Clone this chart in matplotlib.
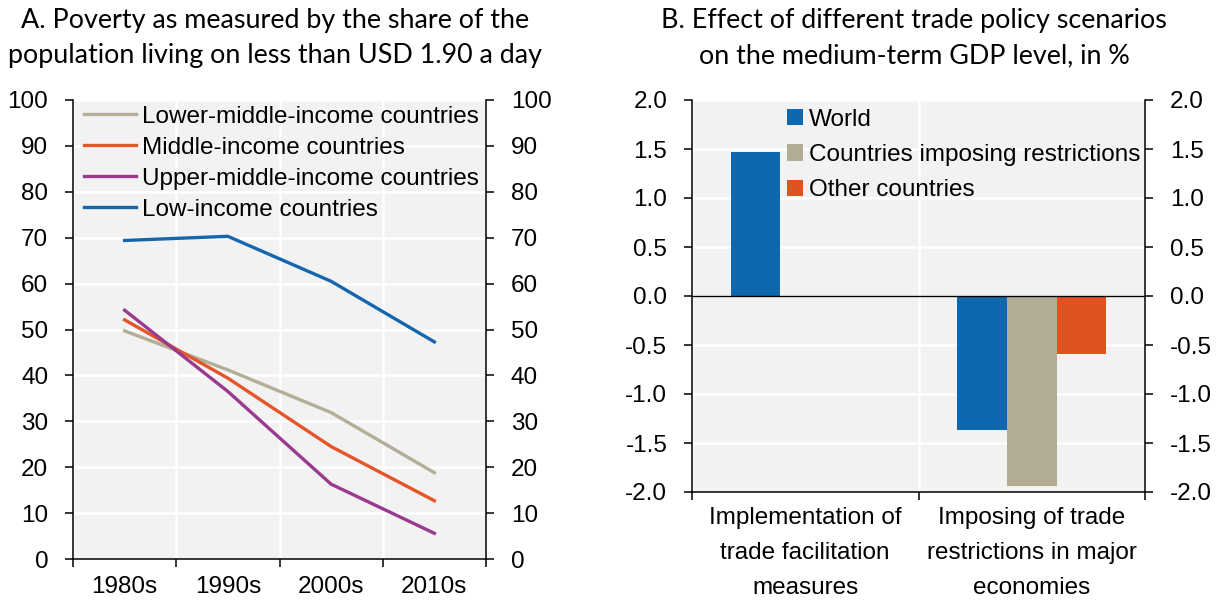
import matplotlib
matplotlib.use("Agg")
import matplotlib.pyplot as plt
from matplotlib import font_manager
import numpy as np

# ---------------- data ----------------
decades = ["1980s", "1990s", "2000s", "2010s"]
lower_middle = [49.7, 41.2, 31.9, 18.8]
middle = [52.1, 39.4, 24.5, 12.7]
upper_middle = [54.2, 36.5, 16.3, 5.6]
low_income = [69.4, 70.3, 60.5, 47.3]

scenarios = ["Implementation of\ntrade facilitation\nmeasures",
             "Imposing of trade\nrestrictions in major\neconomies"]
world = [1.47, -1.37]
imposing = [np.nan, -1.94]
other = [np.nan, -0.59]

left_yticks = list(range(0, 101, 10))
right_yticks = [-2.0, -1.5, -1.0, -0.5, 0.0, 0.5, 1.0, 1.5, 2.0]

# ---------------- style ----------------
names = {f.name for f in font_manager.fontManager.ttflist}
body_font = "Liberation Sans Narrow" if "Liberation Sans Narrow" in names else "Liberation Sans"
title_font = "Lato" if "Lato" in names else "DejaVu Sans"
plt.rcParams["font.family"] = [body_font, "DejaVu Sans"]
plt.rcParams["axes.unicode_minus"] = False

BG = "#F2F2F2"
C_LM = "#B3AE97"
C_M = "#E5552A"
C_UM = "#9A3A8F"
C_LOW = "#1566AE"
C_WORLD = "#0F67AE"
C_IMP = "#B1AC93"
C_OTH = "#E05321"

W, H = 1219, 600
fig = plt.figure(figsize=(W / 100, H / 100), dpi=100)

def frac(l, t, r, b):
    return [l / W, 1 - b / H, (r - l) / W, (b - t) / H]

FS = 17.5
TFS = 19.4

# ---------------- panel A ----------------
ax1 = fig.add_axes(frac(73, 100, 486, 559))
ax1.set_facecolor(BG)
x = np.arange(len(decades))
ax1.plot(x, lower_middle, color=C_LM, lw=2.4, label="Lower-middle-income countries")
ax1.plot(x, middle, color=C_M, lw=2.4, label="Middle-income countries")
ax1.plot(x, upper_middle, color=C_UM, lw=2.4, label="Upper-middle-income countries")
ax1.plot(x, low_income, color=C_LOW, lw=2.4, label="Low-income countries")
ax1.set_xlim(-0.5, len(decades) - 0.5)
ax1.set_ylim(0, 100)
ax1.set_yticks(left_yticks)
ax1.set_xticks(np.arange(len(decades) + 1) - 0.5)
ax1.set_xticklabels([])
ax1.set_xticks(x, minor=True)
ax1.set_xticklabels(decades, minor=True)
ax1.tick_params(axis="x", which="major", direction="out", length=5.5, width=1.1)
ax1.tick_params(axis="x", which="minor", length=0, pad=12, labelsize=FS)
ax1.tick_params(axis="y", direction="out", length=5.8, width=1.1, pad=12,
                left=True, right=True, labelleft=True, labelright=True, labelsize=FS)
ax1.grid(True, which="major", color="white", lw=1.8)
ax1.set_axisbelow(True)
for s in ["left", "right", "bottom"]:
    ax1.spines[s].set_linewidth(1.1)
ax1.spines["top"].set_visible(False)
ax1.legend(loc="upper left", bbox_to_anchor=(0.026, 0.987), frameon=False, fontsize=FS,
           handlelength=2.15, handletextpad=0.25, borderpad=0, borderaxespad=0,
           labelspacing=0.37)

fig.text(275 / W, 1 - 28 / H, "A. Poverty as measured by the share of the",
         ha="center", va="baseline", fontsize=TFS, family=[title_font, "DejaVu Sans"])
fig.text(275 / W, 1 - 63 / H, "population living on less than USD 1.90 a day",
         ha="center", va="baseline", fontsize=TFS, family=[title_font, "DejaVu Sans"])

# ---------------- panel B ----------------
ax2 = fig.add_axes(frac(692, 100, 1145, 492))
ax2.set_facecolor(BG)
xb = np.arange(len(scenarios))
bw = 0.22
ax2.bar(xb - bw, world, width=bw, color=C_WORLD, label="World")
ax2.bar(xb, imposing, width=bw, color=C_IMP, label="Countries imposing restrictions")
ax2.bar(xb + bw, other, width=bw, color=C_OTH, label="Other countries")
ax2.axhline(0, color="black", lw=1.0)
ax2.set_xlim(-0.5, len(scenarios) - 0.5)
ax2.set_ylim(-2, 2)
ax2.set_yticks(right_yticks)
ax2.set_yticklabels([f"{v:.1f}" for v in right_yticks])
ax2.set_xticks(np.arange(len(scenarios) + 1) - 0.5)
ax2.set_xticklabels([])
ax2.set_xticks(xb, minor=True)
ax2.set_xticklabels(scenarios, minor=True, linespacing=1.75)
ax2.tick_params(axis="x", which="major", direction="out", length=5.5, width=1.1)
ax2.tick_params(axis="x", which="minor", length=0, pad=11, labelsize=FS)
ax2.tick_params(axis="y", direction="out", length=5.8, width=1.1, pad=12,
                left=True, right=True, labelleft=True, labelright=True, labelsize=FS)
ax2.grid(True, which="major", color="white", lw=1.8)
ax2.set_axisbelow(True)
for s in ["left", "right", "bottom"]:
    ax2.spines[s].set_linewidth(1.1)
ax2.spines["top"].set_visible(False)
ax2.legend(loc="upper left", bbox_to_anchor=(0.21, 0.978), frameon=False, fontsize=FS,
           handlelength=0.66, handleheight=0.66, handletextpad=0.25, borderpad=0,
           borderaxespad=0, labelspacing=0.55)

fig.text(914 / W, 1 - 28 / H, "B. Effect of different trade policy scenarios",
         ha="center", va="baseline", fontsize=TFS, family=[title_font, "DejaVu Sans"])
fig.text(914 / W, 1 - 63 / H, "on the medium-term GDP level, in %",
         ha="center", va="baseline", fontsize=TFS, family=[title_font, "DejaVu Sans"])

fig.savefig("out.png", dpi=100, facecolor="white")
